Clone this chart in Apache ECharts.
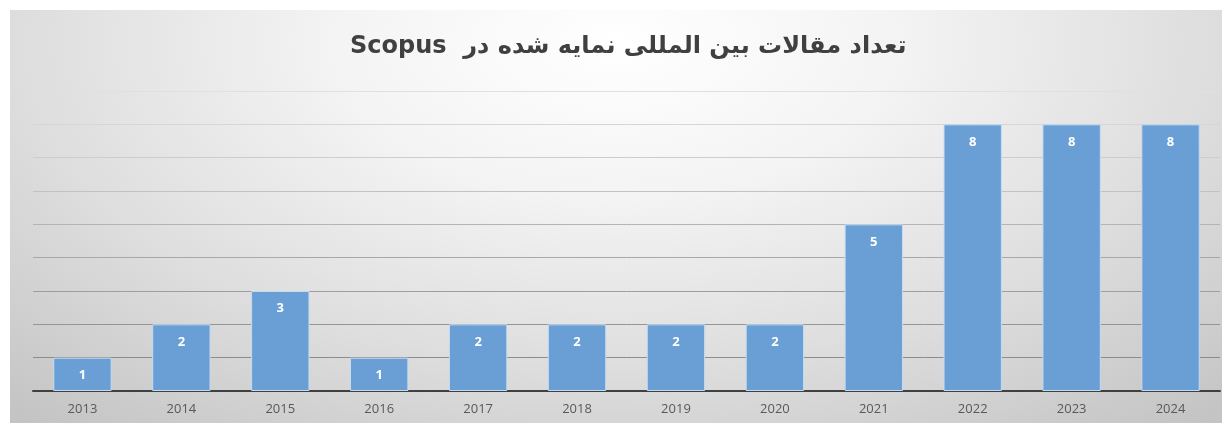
<!DOCTYPE html>
<html><head><meta charset="utf-8">
<script src="https://cdn.jsdelivr.net/npm/echarts@6/dist/echarts.min.js"></script>
<style>
html,body{margin:0;padding:0;background:#fff;width:1222px;height:423px;overflow:hidden}
#c{position:absolute;left:10px;top:10px;width:1212px;height:413px;
background:radial-gradient(ellipse 75% 120% at 50% 8%, #ffffff 0%, #f4f4f4 30%, #dedede 65%, #c4c4c4 100%);}
</style></head>
<body><div id="c"></div>
<script>
const titleText = 'Scopus  تعداد مقالات بین المللی نمایه شده در';
const categories = ['2013','2014','2015','2016','2017','2018','2019','2020','2021','2022','2023','2024'];
const values = [1,2,3,1,2,2,2,2,5,8,8,8];
const chart = echarts.init(document.getElementById('c'), null, {renderer:'canvas'});
chart.setOption({
  backgroundColor:'transparent',
  animation:false,
  title:{text:titleText,left:335,top:20,padding:5,
    textStyle:{fontFamily:'DejaVu Sans',fontWeight:'bold',fontSize:24,color:'#404040'}},
  grid:{left:23,right:2,top:81,bottom:32},
  xAxis:{type:'category',data:categories,
    axisLine:{lineStyle:{color:'#404040',width:2}},
    axisTick:{show:false},
    axisLabel:{color:'#595959',fontSize:13,fontFamily:'Open Sans',margin:12}},
  yAxis:{type:'value',min:0,max:9,interval:1,
    axisLine:{show:false},axisTick:{show:false},axisLabel:{show:false},
    splitLine:{lineStyle:{width:1,
      color:['#808080','#8c8c8c','#959595','#9e9e9e','#a8a8a8','#b4b4b4','#c2c2c2','#cdcdcd','#d6d6d6','#e0e0e0']}}},
  series:[{type:'bar',data:values,barWidth:'59%',
    itemStyle:{color:'#6a9fd5',borderColor:'#c5dcf0',borderWidth:1},
    label:{show:true,position:'insideTop',distance:11,color:'#ffffff',fontWeight:'bold',fontSize:13,fontFamily:'Open Sans'}}]
});
</script></body></html>
